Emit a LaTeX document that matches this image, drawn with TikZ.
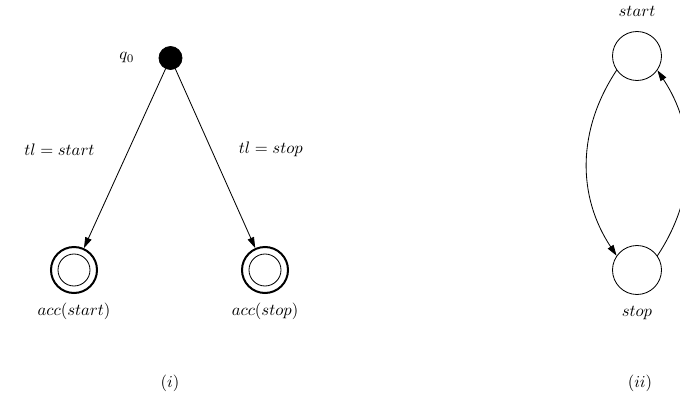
\documentclass[tikz,border=0pt]{standalone}
\usetikzlibrary{arrows.meta,positioning}

\begin{document}
\begin{tikzpicture}[x=0.6pt, y=-0.6pt, >={Triangle[length=6.5pt,width=4pt]}, line width=0.5pt,
  initst/.style={circle, draw, fill=black, inner sep=0pt, minimum size=13.8pt},
  accst/.style={circle, draw, line width=1.2pt, inner sep=0pt, minimum size=27.6pt,
    path picture={\draw[line width=0.5pt] (path picture bounding box.center) circle (9.6pt);}},
  plainst/.style={circle, draw, inner sep=0pt, minimum size=29.4pt}]
  \useasboundingbox (0,0) rectangle (680,407);

  % (i)
  \node[initst] (q0) at (170.5,58) {};
  \node[left=11pt of q0] (q0lbl) {$q_0$};
  \node[accst] (accstart) at (74,270) {};
  \node[accst] (accstop) at (265,270) {};
  \node[below=2pt of accstart] (accstartlbl) {$acc(start)$};
  \node[below=2pt of accstop] (accstoplbl) {$acc(stop)$};
  \draw[->] (q0) -- node[pos=0.45, left=17pt] (tlstart) {$tl = start$} (accstart);
  \draw[->] (q0) -- node[pos=0.45, right=13pt] (tlstop) {$tl = stop$} (accstop);
  \node (capi) at (170,383) {$(i)$};

  % (ii)
  \node[plainst] (sstart) at (637,56) {};
  \node[plainst] (sstop) at (637,270) {};
  \node[above=5pt of sstart] (sstartlbl) {$start$};
  \node[below=3pt of sstop] (sstoplbl) {$stop$};
  \draw[->] (sstart.215) .. controls (577,130) and (577,196) .. (sstop.145);
  \draw[->] (sstop.35) .. controls (697,196) and (697,130) .. (sstart.325);
  \node (capii) at (640,383) {$(ii)$};
\end{tikzpicture}
\end{document}
